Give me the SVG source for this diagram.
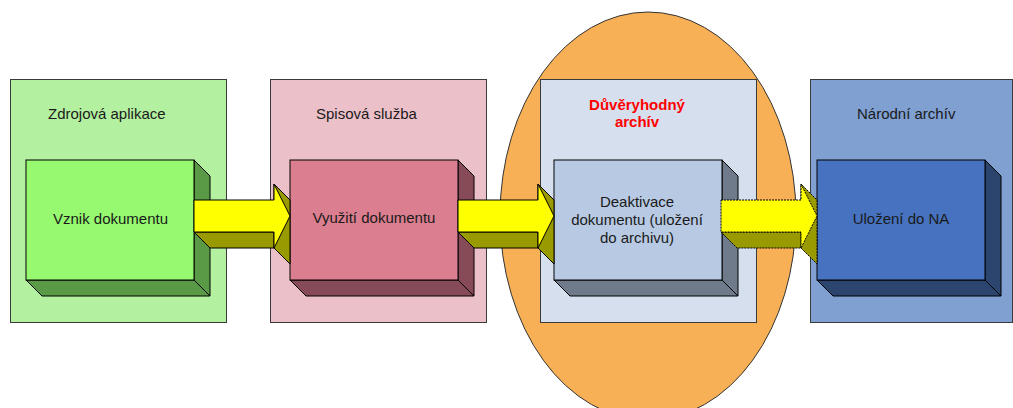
<svg xmlns="http://www.w3.org/2000/svg" width="1013" height="408" viewBox="0 0 1013 408">
<style>
text{font-family:"Liberation Sans",Arial,sans-serif;font-size:15px;fill:#1a1a1a}
.t{text-anchor:middle}
.red{fill:#ff0000;font-weight:bold;text-anchor:middle}
.pan{stroke:#3a3a3a;stroke-width:1}
.e{stroke:#000;stroke-width:1;stroke-linejoin:miter}
.yl{fill:#ffff00;stroke:#000;stroke-width:1}
.ol{fill:#999900;stroke:#000;stroke-width:1}
.dot{stroke-dasharray:2,1}
</style>
<rect width="1013" height="408" fill="#ffffff"/>
<g id="panel-zdroj">
<rect class="pan" x="10.5" y="79.5" width="216" height="243" fill="#b3f0a0"/>
<text x="48" y="119">Zdrojová aplikace</text>
</g>
<g id="panel-spis">
<rect class="pan" x="270.5" y="79.5" width="216" height="243" fill="#ecc0c9"/>
<text x="316" y="119">Spisová služba</text>
</g>
<g id="panel-duveryhodny">
<ellipse cx="648" cy="216" rx="148" ry="204" fill="#f8b056" stroke="#333" stroke-width="1"/>
<rect class="pan" x="540.5" y="79.5" width="216" height="243" fill="#d6dfee"/>
<text class="red" x="637" y="110">Důvěryhodný</text>
<text class="red" x="637" y="127">archív</text>
</g>
<g id="panel-narodni">
<rect class="pan" x="810.5" y="79.5" width="202" height="243" fill="#7fa0d1"/>
<text x="857" y="119">Národní archív</text>
</g>
<g id="box-vznik">
<polygon class="e" points="194,160 210,176 210,296 194,280" fill="#5a9a47"/>
<polygon class="e" points="26,280 194,280 210,296 42,296" fill="#5a9a47"/>
<rect class="e" x="26" y="160" width="168" height="120" fill="#96f970"/>
<text class="t" x="110.5" y="224">Vznik dokumentu</text>
</g>
<g id="box-vyuziti">
<polygon class="e" points="458,160 474,176 474,296 458,280" fill="#864b57"/>
<polygon class="e" points="290,280 458,280 474,296 306,296" fill="#864b57"/>
<rect class="e" x="290" y="160" width="168" height="120" fill="#db7e8f"/>
<text class="t" x="374" y="223">Využití dokumentu</text>
</g>
<g id="box-deaktivace">
<polygon class="e" points="722,160 738,176 738,296 722,280" fill="#6f7a8a"/>
<polygon class="e" points="554,280 722,280 738,296 570,296" fill="#6f7a8a"/>
<rect class="e" x="554" y="160" width="168" height="120" fill="#b8cae3"/>
<text class="t" x="637" y="207">Deaktivace</text>
<text class="t" x="637" y="225">dokumentu (uložení</text>
<text class="t" x="637" y="243">do archivu)</text>
</g>
<g id="box-ulozeni">
<polygon class="e" points="985,160 1001,176 1001,296 985,280" fill="#2b456f"/>
<polygon class="e" points="817,280 985,280 1001,296 833,296" fill="#2b456f"/>
<rect class="e" x="817" y="160" width="168" height="120" fill="#4672bf"/>
<text class="t" x="901" y="224">Uložení do NA</text>
</g>
<g id="connectors">
<g id="arrow-1">
<polygon class="ol" points="194,232 210,248 274,248 290,264 290,200 274,184 274,232"/>
<path d="M274,232V248" stroke="#000" fill="none"/>
<polygon class="yl" points="194,200 274,200 274,184 290,216 274,248 274,232 194,232"/>
</g>
<g id="arrow-2">
<polygon class="ol" points="458,232 474,248 538,248 554,264 554,200 538,184 538,232"/>
<path d="M538,232V248" stroke="#000" fill="none"/>
<polygon class="yl" points="458,200 538,200 538,184 554,216 538,248 538,232 458,232"/>
</g>
<g id="arrow-3">
<polygon class="ol dot" points="721,232 737,248 801,248 817,264 817,200 801,184 801,232"/>
<path class="dot" d="M801,232V248" stroke="#000" fill="none"/>
<polygon class="yl dot" points="721,200 801,200 801,184 817,216 801,248 801,232 721,232"/>
</g>
</g>
</svg>
